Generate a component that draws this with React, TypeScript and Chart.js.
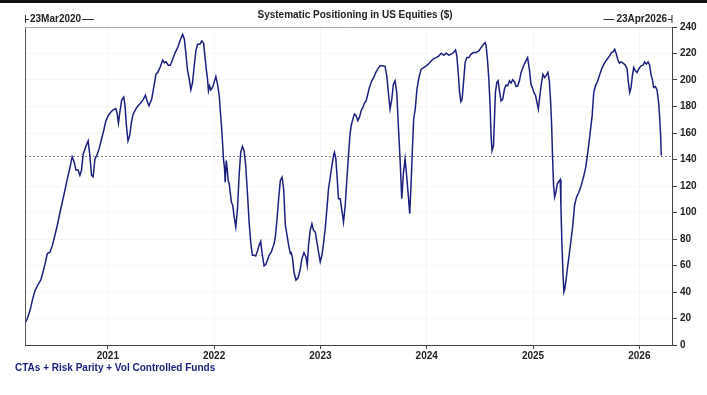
import { useEffect, useRef } from "react";
import { Chart, registerables } from "chart.js";

Chart.register(...registerables);

const titleText = "Systematic Positioning in US Equities ($)";
const footerText = "CTAs + Risk Parity + Vol Controlled Funds";
const startLabel = "23Mar2020";
const endLabel = "23Apr2026";
const xMin = 2020.221; // 23 Mar 2020 as decimal year
const xMax = 2026.307; // 23 Apr 2026 as decimal year
const yearTicks = [2021, 2022, 2023, 2024, 2025, 2026];
const yTickValues = [0, 20, 40, 60, 80, 100, 120, 140, 160, 180, 200, 220, 240];

// dates as decimal years
const dates = [
  2020.221, 2020.243, 2020.268, 2020.294, 2020.315, 2020.346, 2020.369, 2020.387, 2020.409, 2020.431,
  2020.456, 2020.478, 2020.503, 2020.524, 2020.55, 2020.575, 2020.597, 2020.618, 2020.644, 2020.665,
  2020.684, 2020.7, 2020.721, 2020.737, 2020.753, 2020.768, 2020.794, 2020.815, 2020.831, 2020.847,
  2020.862, 2020.878, 2020.9, 2020.918, 2020.941, 2020.962, 2020.981, 2021.003, 2021.025, 2021.05,
  2021.075, 2021.087, 2021.1, 2021.113, 2021.131, 2021.15, 2021.162, 2021.175, 2021.19, 2021.206,
  2021.222, 2021.237, 2021.263, 2021.284, 2021.307, 2021.331, 2021.354, 2021.372, 2021.387,
  2021.413, 2021.432, 2021.453, 2021.469, 2021.491, 2021.516, 2021.532, 2021.547, 2021.569, 2021.588,
  2021.61, 2021.631, 2021.657, 2021.678, 2021.704, 2021.72, 2021.735, 2021.75, 2021.766, 2021.781,
  2021.797, 2021.813, 2021.828, 2021.844, 2021.866, 2021.885, 2021.901, 2021.913, 2021.926, 2021.938,
  2021.947, 2021.957, 2021.969, 2021.985, 2022.001, 2022.016, 2022.032, 2022.048, 2022.057, 2022.069,
  2022.079, 2022.088, 2022.098, 2022.104, 2022.114, 2022.123, 2022.132, 2022.142, 2022.151, 2022.163,
  2022.175, 2022.189, 2022.204, 2022.22, 2022.235, 2022.25, 2022.266, 2022.282, 2022.297, 2022.313,
  2022.329, 2022.344, 2022.36, 2022.376, 2022.391, 2022.407, 2022.423, 2022.438, 2022.454, 2022.47,
  2022.485, 2022.501, 2022.517, 2022.538, 2022.564, 2022.576, 2022.592, 2022.607, 2022.623, 2022.639,
  2022.654, 2022.67, 2022.686, 2022.701, 2022.717, 2022.726, 2022.738, 2022.751, 2022.77, 2022.789,
  2022.808, 2022.826, 2022.845, 2022.864, 2022.876, 2022.888, 2022.904, 2022.92, 2022.935, 2022.951,
  2022.967, 2022.982, 2022.998, 2023.014, 2023.029, 2023.045, 2023.061, 2023.076, 2023.092, 2023.108,
  2023.123, 2023.132, 2023.145, 2023.158, 2023.17, 2023.186, 2023.202, 2023.217, 2023.233, 2023.249,
  2023.264, 2023.277, 2023.289, 2023.305, 2023.32, 2023.336, 2023.352, 2023.367, 2023.383, 2023.399,
  2023.414, 2023.43, 2023.446, 2023.461, 2023.483, 2023.502, 2023.521, 2023.539, 2023.561, 2023.583,
  2023.608, 2023.624, 2023.639, 2023.655, 2023.671, 2023.686, 2023.702, 2023.718, 2023.733, 2023.749,
  2023.765, 2023.78, 2023.796, 2023.808, 2023.824, 2023.84, 2023.852, 2023.864, 2023.877, 2023.892,
  2023.908, 2023.927, 2023.948, 2023.971, 2023.995, 2024.021, 2024.042, 2024.065, 2024.089, 2024.114,
  2024.136, 2024.159, 2024.183, 2024.208, 2024.23, 2024.252, 2024.271, 2024.283, 2024.296, 2024.309,
  2024.321, 2024.333, 2024.346, 2024.361, 2024.377, 2024.396, 2024.417, 2024.44, 2024.464, 2024.49,
  2024.511, 2024.534, 2024.549, 2024.558, 2024.571, 2024.584, 2024.596, 2024.605, 2024.614, 2024.628,
  2024.637, 2024.646, 2024.659, 2024.671, 2024.684, 2024.699, 2024.715, 2024.731, 2024.746, 2024.762,
  2024.778, 2024.793, 2024.809, 2024.825, 2024.84, 2024.856, 2024.872, 2024.887, 2024.902, 2024.918,
  2024.933, 2024.949, 2024.965, 2024.98, 2024.993, 2025.008, 2025.024, 2025.04, 2025.05, 2025.062,
  2025.078, 2025.093, 2025.109, 2025.125, 2025.14, 2025.153, 2025.165, 2025.175, 2025.184, 2025.193,
  2025.203, 2025.215, 2025.228, 2025.243, 2025.256, 2025.262, 2025.271, 2025.281, 2025.29, 2025.299,
  2025.312, 2025.327, 2025.343, 2025.359, 2025.374, 2025.39, 2025.409, 2025.431, 2025.453, 2025.478,
  2025.496, 2025.515, 2025.534, 2025.556, 2025.571, 2025.587, 2025.609, 2025.628, 2025.65, 2025.672,
  2025.697, 2025.719, 2025.737, 2025.753, 2025.768, 2025.784, 2025.796, 2025.812, 2025.828, 2025.847,
  2025.869, 2025.885, 2025.897, 2025.909, 2025.922, 2025.934, 2025.947, 2025.962, 2025.978, 2025.997,
  2026.016, 2026.035, 2026.05, 2026.066, 2026.082, 2026.097, 2026.11, 2026.122, 2026.134, 2026.15,
  2026.166, 2026.181, 2026.19, 2026.2, 2026.206,
];

// positioning, $bn
const positioning = [
  16.3, 20, 26, 35, 41, 46, 49, 54, 61, 69,
  70, 75, 83, 90, 100, 109, 117, 125, 134, 142,
  138, 132, 132, 128, 132, 144, 150, 154, 143, 128,
  127, 140, 144, 148, 155.5, 162, 169, 173, 175.5, 177.5,
  178.5, 175, 167.5, 175.5, 185, 187, 180.5, 165.5, 154, 158,
  168, 174, 178, 180.5, 182.5, 185, 188.5, 183.5, 180.5,
  185.6, 194.4, 204.4, 205.7, 209.4, 215, 213, 213.7, 211.2, 211.2,
  215.7, 220.2, 224.4, 229.5, 234.5, 230.8, 219.5, 207, 200.7, 192.6,
  198.1, 210.7, 222, 227, 227, 229.5, 227.8, 218.2, 208.2, 200.7,
  191.9, 195.6, 192.6, 194.4, 198.6, 202.6, 196.9, 188.1, 178.1, 165.5,
  153, 140.5, 133, 122.9, 139.2, 133, 124.2, 121.7, 115.3, 107.8,
  105.3, 96.5, 89, 102.9, 127.9, 145.4, 150, 146.7, 135.4, 115.3,
  92.8, 77.7, 67.7, 67.7, 67.2, 70.7, 75.2, 78.2, 67.7, 59.7,
  60.7, 63.9, 67.7, 70.2, 76.5, 81.5, 95.3, 110.4, 124.2, 126.6,
  117.9, 90.3, 82.8, 75.2, 69, 69.7, 65.2, 55.2, 48.9, 50.7,
  56.4, 65.2, 69.7, 66.4, 60.2, 75.2, 86.5, 91.5, 86.5, 85.3,
  77.7, 70.2, 62.7, 67.7, 76.5, 87.8, 102.9, 117.9, 126.6, 135.4,
  143, 145.4, 140.5, 125.4, 110.4, 110.4, 101.6, 92.8, 105.3, 125.4,
  143, 158, 165.5, 170.6, 174.3, 173.1, 169.3, 171.8, 176.8, 179.3,
  182.6, 184.3, 189.4, 194.4, 199.4, 201.9, 205.7, 208.2, 210.7, 210.7,
  210.2, 203.2, 190.6, 178.1, 185.6, 196.9, 199.4, 190.6, 165.5, 140.5,
  110.4, 129.2, 140.5, 130.4, 115.3, 99.1, 120.4, 145.4, 170.6, 178.1,
  193.2, 201.9, 208.2, 209.4, 210.7, 212.4, 214.4, 216.2, 216.9, 218.2,
  220.2, 218.7, 220.2, 218.7, 219.5, 220.7, 222.7, 218.2, 205.7, 190.6,
  183.6, 185.6, 198.1, 213.2, 216.9, 216.9, 219.5, 220.7, 220.7, 222,
  224.4, 227, 228.2, 226.2, 215.7, 200.7, 180.5, 158, 146.7, 150.5,
  170.6, 190.6, 198.1, 199.4, 191.9, 184.3, 185.6, 193.2, 196.2, 195.6,
  199.4, 197.7, 200.2, 198.6, 195.1, 195.6, 199.4, 205.7, 208.7, 212,
  214.4, 216.9, 208.2, 196.9, 194.4, 190.6, 188.1, 181.9, 178.1, 186.8,
  196.9, 204.4, 201.9, 203.7, 205.7, 199.4, 184.3, 165.5, 140.5, 120.4,
  111.6, 115.3, 121.7, 123.4, 124.9, 105.3, 77.7, 55.2, 40.1, 42.6,
  50.2, 60.2, 70.2, 80.3, 90.3, 105.3, 111.6, 115.3, 120.4, 127.9,
  134.2, 145.4, 158, 173.1, 190.6, 195.6, 199.4, 204.4, 209.4, 212.7,
  215.7, 218.2, 220.7, 221.2, 223.2, 219.5, 215.7, 212.7, 213.7, 212.7,
  211.2, 208.2, 198.1, 190.6, 194.4, 203.2, 209.4, 206.9, 205.7, 208.7,
  210.7, 211.2, 213.7, 212, 213.7, 211.2, 203.7, 200.7, 194.4, 195.1,
  192.6, 183.1, 173.1, 158, 143,
];

const LINE = "#1b1f7e";
const FONT = "'Liberation Sans', Arial, sans-serif";

export default function App() {
  const ref = useRef<HTMLCanvasElement | null>(null);

  useEffect(() => {
    const canvas = ref.current;
    if (!canvas) return;
    const points = dates.map((d, i) => ({ x: d, y: positioning[i] }));
    const lastValue = positioning[positioning.length - 1];

    const decor = {
      id: "decor",
      beforeDraw(chart: any) {
        const ctx = chart.ctx;
        ctx.save();
        ctx.fillStyle = "#ffffff";
        ctx.fillRect(0, 0, chart.width, chart.height);
        ctx.fillStyle = "#111111";
        ctx.fillRect(0, 0, chart.width, 3);
        ctx.restore();
      },
      beforeDatasetsDraw(chart: any) {
        const ctx = chart.ctx;
        const a = chart.chartArea;
        const y = Math.round(chart.scales.y.getPixelForValue(lastValue)) + 0.5;
        ctx.save();
        ctx.strokeStyle = "#8a8a8a";
        ctx.lineWidth = 1;
        ctx.setLineDash([2, 2]);
        ctx.beginPath();
        ctx.moveTo(a.left, y);
        ctx.lineTo(a.right, y);
        ctx.stroke();
        ctx.restore();
      },
      afterDraw(chart: any) {
        const ctx = chart.ctx;
        const a = chart.chartArea;
        ctx.save();
        // plot frame: left and top
        ctx.strokeStyle = "#555";
        ctx.lineWidth = 1;
        ctx.beginPath();
        ctx.moveTo(a.left + 0.5, a.bottom);
        ctx.lineTo(a.left + 0.5, a.top);
        ctx.stroke();
        ctx.strokeStyle = "#aaa";
        ctx.beginPath();
        ctx.moveTo(a.left, a.top + 0.5);
        ctx.lineTo(a.right, a.top + 0.5);
        ctx.stroke();

        // title
        ctx.fillStyle = "#222";
        ctx.font = `bold 10px ${FONT}`;
        ctx.textAlign = "center";
        ctx.textBaseline = "middle";
        ctx.fillText(titleText, 355, 15);

        // date range labels
        ctx.font = `bold 10px ${FONT}`;
        ctx.textAlign = "left";
        const ly = 19;
        ctx.strokeStyle = "#333";
        const sx = a.left;
        ctx.beginPath();
        ctx.moveTo(sx + 0.5, ly - 4);
        ctx.lineTo(sx + 0.5, ly + 4);
        ctx.moveTo(sx, ly + 0.5);
        ctx.lineTo(sx + 4, ly + 0.5);
        ctx.stroke();
        const sw = ctx.measureText(startLabel).width;
        ctx.fillText(startLabel, sx + 5, ly);
        ctx.beginPath();
        ctx.moveTo(sx + 6 + sw, ly + 0.5);
        ctx.lineTo(sx + 18 + sw, ly + 0.5);
        ctx.stroke();

        const ex = a.right;
        const ew = ctx.measureText(endLabel).width;
        ctx.textAlign = "right";
        ctx.fillText(endLabel, ex - 5, ly);
        ctx.beginPath();
        ctx.moveTo(ex, ly - 4);
        ctx.lineTo(ex, ly + 4);
        ctx.moveTo(ex - 4, ly + 0.5);
        ctx.lineTo(ex, ly + 0.5);
        ctx.moveTo(ex - 7 - ew, ly + 0.5);
        ctx.lineTo(ex - 18 - ew, ly + 0.5);
        ctx.stroke();

        // footer
        ctx.fillStyle = LINE;
        ctx.font = `bold 10px ${FONT}`;
        ctx.textAlign = "left";
        ctx.fillText(footerText, 15, 368);
        ctx.restore();
      },
    };

    const chart = new Chart(canvas, {
      type: "line",
      data: {
        datasets: [
          {
            label: footerText,
            data: points,
            borderColor: LINE,
            borderWidth: 1.5,
            pointRadius: 0,
            tension: 0,
            fill: false,
          },
        ],
      },
      options: {
        animation: false,
        responsive: false,
        maintainAspectRatio: false,
        parsing: false,
        layout: { padding: { left: 25, top: 27, right: 0, bottom: 0 } },
        plugins: {
          legend: { display: false },
          tooltip: { enabled: false },
          title: { display: false },
        },
        scales: {
          x: {
            type: "linear",
            min: xMin,
            max: xMax,
            afterFit: (s: any) => {
              s.height = 50;
            },
            afterBuildTicks: (s: any) => {
              s.ticks = yearTicks.map((v) => ({ value: v }));
            },
            grid: {
              color: "#f6f6f6",
              tickColor: "#444",
              tickLength: 4,
            },
            border: { color: "#444" },
            ticks: {
              autoSkip: false,
              maxRotation: 0,
              padding: 1,
              color: "#222",
              font: { family: FONT, size: 10, weight: "bold" },
              callback: (v: any) => String(v),
            },
          },
          y: {
            position: "right",
            min: 0,
            max: 240,
            afterFit: (s: any) => {
              s.width = 35;
            },
            afterBuildTicks: (s: any) => {
              s.ticks = yTickValues.map((v) => ({ value: v }));
            },
            grid: {
              color: "#f6f6f6",
              tickColor: "#444",
              tickLength: 5,
            },
            border: { color: "#444" },
            ticks: {
              padding: 3,
              color: "#222",
              font: { family: FONT, size: 10, weight: "bold" },
            },
          },
        },
      },
      plugins: [decor],
    } as any);

    return () => chart.destroy();
  }, []);

  return (
    <div
      style={{
        position: "absolute",
        left: 0,
        top: 0,
        width: 707,
        height: 395,
        background: "#fff",
      }}
    >
      <canvas ref={ref} width={707} height={395} style={{ display: "block" }} />
    </div>
  );
}
